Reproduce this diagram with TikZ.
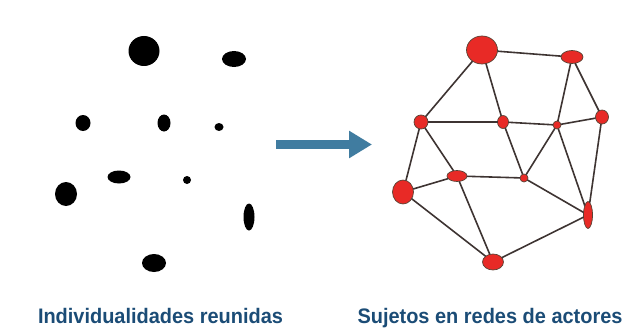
\documentclass[tikz,border=0pt]{standalone}
\usepackage{fontspec}
\newfontfamily\capfont{Liberation Sans}[FakeStretch=0.95]
\usetikzlibrary{shapes.geometric}
\usetikzlibrary{arrows.meta}
\definecolor{capblue}{RGB}{27,76,118}
\definecolor{arrblue}{RGB}{64,124,160}
\definecolor{netred}{RGB}{232,42,38}
\definecolor{netline}{RGB}{62,52,50}
\tikzset{x=1pt, y=-1pt,
solo/.style={ % Sets the properties for each lone individual
ellipse, fill=black, inner sep=0pt, outer sep=0pt},
actor/.style={ % Sets the properties for each actor of the network
ellipse, fill=netred, draw=netline!80!brown, line width=0.7pt,
inner sep=0pt, outer sep=0pt},
tie/.style={ % Sets the properties for each tie
draw=netline, line width=1.6pt},
caption/.style={
anchor=base, text=capblue, font=\capfont\bfseries\fontsize{21}{25}\selectfont}}

\begin{document}
\begin{tikzpicture}
\useasboundingbox (0,0) rectangle (634,329);
% individuals, not linked
\node[solo, minimum width=31, minimum height=30] (i1) at (144,51) {};
\node[solo, minimum width=24, minimum height=16] (i2) at (234,59) {};
\node[solo, minimum width=15, minimum height=16] (i3) at (83,123) {};
\node[solo, minimum width=13, minimum height=17] (i4) at (164,123) {};
\node[solo, minimum width=9, minimum height=8] (i5) at (219,127) {};
\node[solo, minimum width=23, minimum height=13] (i6) at (119,177) {};
\node[solo, minimum width=8, minimum height=8] (i7) at (187,180) {};
\node[solo, minimum width=22, minimum height=24] (i8) at (66,194) {};
\node[solo, minimum width=11, minimum height=27] (i9) at (249,217) {};
\node[solo, minimum width=24, minimum height=18] (i10) at (154,263) {};

% the arrow
\coordinate (arrs) at (276,144.5);
\coordinate (arre) at (372,144.5);
\draw[arrblue, line width=9pt, -{Triangle[length=23pt, width=26pt]}] (arrs) -- (arre);

% actors in a network
\node[actor, minimum width=31, minimum height=28] (a1) at (482,50) {};
\node[actor, minimum width=22, minimum height=13] (a2) at (572,57) {};
\node[actor, minimum width=14, minimum height=14] (a3) at (421,122) {};
\node[actor, minimum width=11, minimum height=13] (a4) at (503,122) {};
\node[actor, minimum width=8, minimum height=8] (a5) at (557,125) {};
\node[actor, minimum width=13, minimum height=14] (a6) at (602,117) {};
\node[actor, minimum width=20, minimum height=11] (a7) at (457,176) {};
\node[actor, minimum width=8, minimum height=8] (a8) at (524,178) {};
\node[actor, minimum width=21, minimum height=24] (a9) at (403,192) {};
\node[actor, minimum width=9, minimum height=27] (a10) at (588,215) {};
\node[actor, minimum width=21, minimum height=16] (a11) at (493,262) {};

\foreach \u/\v in {a1/a2, a1/a3, a1/a4, a2/a5, a2/a6, a3/a4, a4/a5, a5/a6,
  a3/a7, a3/a9, a4/a8, a5/a8, a5/a10, a6/a10, a7/a8, a7/a9, a7/a11,
  a8/a10, a9/a11, a10/a11}
  \path[tie] (\u) -- (\v);

\node[caption] (cap1) at (160.5,323) {Individualidades reunidas};
\node[caption] (cap2) at (490,323) {Sujetos en redes de actores};
\end{tikzpicture}
\end{document}
